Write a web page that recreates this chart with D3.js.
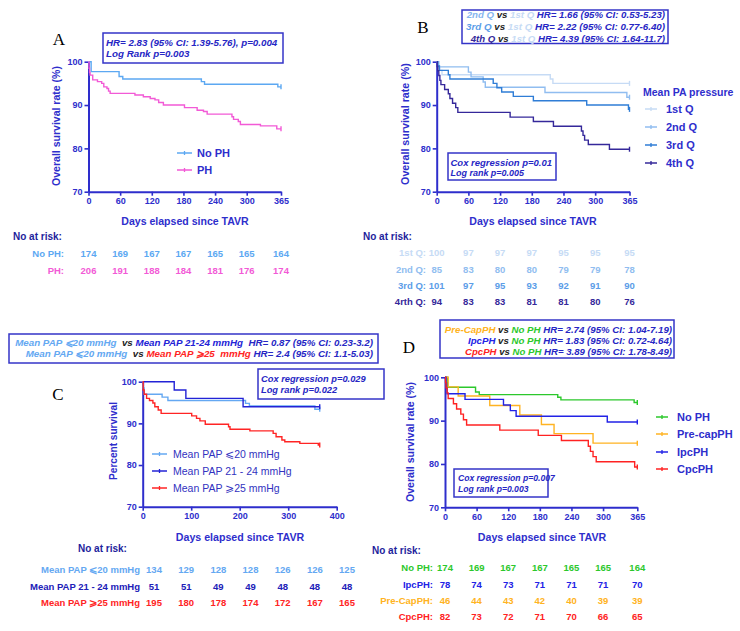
<!DOCTYPE html>
<html><head><meta charset="utf-8">
<script src="https://cdn.jsdelivr.net/npm/d3@7"></script>
<style>body{margin:0;background:#fff}text{white-space:pre}</style>
</head><body><script>
// ---------- DATA ----------
const ticks365 = [0,60,120,180,240,300,365];
const ticks400 = [0,100,200,300,400];
const yTicks = [70,80,90,100];

// Panel A
const aNoPH = [[0,100],[5,97.7],[58,96.6],[65,96],[214,95.4],[220,94.8],[359,94.2],[365,94.2]];
const aPH = [[0,100],[1,98.5],[2,97.5],[3,96.9],[8,95.8],[17,95.4],[25,95],[29,94.2],[35,93.8],[38,93.2],[41,92.7],[88,92.3],[104,91.9],[117,91.5],[126,91.2],[133,90.6],[142,90],[182,89.4],[206,88.8],[218,88.5],[225,87.9],[272,87.3],[275,86.7],[284,86.2],[288,85.5],[326,85.2],[357,84.5],[365,84.5]];
const riskA_NoPH = [174,169,167,167,165,165,164];
const riskA_PH = [206,191,188,184,181,176,174];

// Panel B
const bQ1 = [[0,100],[3,99],[6,98],[10,97],[215,96],[220,95],[365,95]];
const bQ2 = [[0,100],[4,98.8],[60,97.6],[65,96.5],[88,95.3],[92,94.1],[205,92.9],[360,91.8],[365,91.8]];
const bQ3 = [[0,100],[2,99],[5,98],[22,97],[25,96],[107,95],[114,94],[123,93],[145,92],[183,91],[284,90],[363,89],[365,89]];
const bQ4 = [[0,100],[1,98.9],[2,97.9],[4,96.8],[6,95.7],[8,94.7],[15,93.6],[22,92.6],[25,91.5],[30,90.4],[36,89.4],[40,88.3],[139,87.2],[183,86.2],[221,85.1],[274,84],[277,83],[280,81.9],[287,80.9],[327,79.8],[365,79.8]];
const riskB_Q1 = [100,97,97,97,95,95,95];
const riskB_Q2 = [85,83,80,80,79,79,78];
const riskB_Q3 = [101,97,95,93,92,91,90];
const riskB_Q4 = [94,83,83,81,81,80,76];

// Panel C
const c20 = [[0,100],[1,98.5],[3,97],[40,96.3],[52,95.5],[212,94.8],[220,94.2],[355,93.4],[365,93.4]];
const c21 = [[0,100],[65,98],[89,96],[207,94],[365,94]];
const c25 = [[0,100],[1,98],[3,97],[8,96],[14,95.5],[21,94.9],[25,94],[32,93.2],[38,92.4],[101,91.8],[111,91.2],[118,90.6],[129,89.8],[177,89.2],[180,88.6],[221,88.2],[269,87.6],[275,86.8],[287,86],[293,85.6],[324,85.2],[362,84.8],[365,84.8]];
const riskC_20 = [134,129,128,128,126,126,125];
const riskC_21 = [51,51,49,49,48,48,48];
const riskC_25 = [195,180,178,174,172,167,165];

// Panel D
const dNoPH = [[0,100],[5,97.7],[58,96.6],[65,96],[214,95.4],[220,94.8],[359,94.2],[365,94.2]];
const dPre = [[0,100],[6,97.8],[25,95.7],[85,93.5],[142,91.3],[183,89.1],[207,87],[281,84.8],[365,84.8]];
const dIpc = [[0,100],[2,98.7],[3,97.4],[4,96.2],[38,94.9],[111,93.6],[124,92.3],[135,91],[308,89.7],[365,89.7]];
const dCpc = [[0,100],[1,98.8],[2,97.6],[4,96.4],[6,95.1],[16,93.9],[22,92.7],[30,91.5],[35,90.2],[41,89],[104,87.8],[177,86.6],[221,85.4],[272,84.1],[276,82.9],[281,81.7],[287,80.5],[360,79.3],[365,79.3]];
const riskD_NoPH = [174,169,167,167,165,165,164];
const riskD_Ipc = [78,74,73,71,71,71,70];
const riskD_Pre = [46,44,43,42,40,39,39];
const riskD_Cpc = [82,73,72,71,70,66,65];

// ---------- STYLE ----------
const SANS = '"Liberation Sans", Arial, Helvetica, sans-serif';
const SERIF = '"Liberation Serif", "Times New Roman", serif';
const AX = '#2e2ecc', NAVY = '#1e1e9c', BOX = '#3434c8', HR = '#2626c4', VS = '#222';
const C = {
  noph:'#5ca8f2', ph:'#f25ad6',
  q1:'#c6dbf5', q2:'#90bdf0', q3:'#2f7dd6', q4:'#35289a', q2t:'#86b6ef', q3t:'#5b9de8',
  m20:'#64a8f2', m21:'#2323d6', m25:'#ff2424',
  green:'#2cc82c', orange:'#ffb322', blue:'#2222e6', red:'#ff2222'
};

const svg = d3.select('body').append('svg').attr('width',740).attr('height',631)
  .style('font-family', SANS);

function txt(x, y, s, o = {}) {
  const t = svg.append('text').attr('x', x).attr('y', y).attr('dy', '0.35em')
    .attr('font-size', o.size || 10).attr('font-weight', o.weight || 'bold')
    .attr('font-style', o.style || 'normal').attr('fill', o.fill || AX)
    .attr('text-anchor', o.anchor || 'start').attr('font-family', o.family || SANS);
  if (Array.isArray(s)) s.forEach(p => t.append('tspan').attr('fill', p[1]).text(p[0]));
  else t.text(s);
  if (o.rotate) t.attr('transform', `rotate(${o.rotate},${x},${y})`);
  if (o.fit) {
    const w = t.node().getBBox().width;
    t.attr('font-size', (o.size || 10) * o.fit / w);
  }
  return t;
}

function box(x0, y0, x1, y1) {
  svg.append('rect').attr('x', x0).attr('y', y0).attr('width', x1 - x0).attr('height', y1 - y0)
    .attr('fill', 'none').attr('stroke', BOX).attr('stroke-width', 1.5);
}

function panel(p) {
  const x = d3.scaleLinear().domain(p.xd).range(p.xr);
  const y = d3.scaleLinear().domain([70, 100]).range(p.yr);
  const ga = svg.append('g').attr('transform', `translate(0,${p.yr[0]})`)
    .call(d3.axisBottom(x).tickValues(p.xt).tickSize(4).tickSizeOuter(0).tickPadding(2));
  const gy = svg.append('g').attr('transform', `translate(${p.xr[0]},0)`)
    .call(d3.axisLeft(y).tickValues(yTicks).tickSize(4).tickSizeOuter(0).tickPadding(2));
  [ga, gy].forEach(g => {
    g.select('.domain').attr('stroke', AX).attr('stroke-width', 2);
    g.selectAll('.tick line').attr('stroke', AX).attr('stroke-width', 1.6);
    g.selectAll('.tick text').attr('fill', AX).attr('font-weight', 'bold')
      .attr('font-size', 9).attr('font-family', SANS);
  });
  const line = d3.line().x(d => x(d[0])).y(d => y(d[1])).curve(d3.curveStepAfter);
  p.series.forEach(s => {
    svg.append('path').datum(s.data).attr('d', line).attr('fill', 'none')
      .attr('stroke', s.color).attr('stroke-width', 1.4);
    const l = s.data[s.data.length - 1];
    svg.append('line').attr('x1', x(l[0])).attr('x2', x(l[0]))
      .attr('y1', y(l[1]) - 2.5).attr('y2', y(l[1]) + 2.5)
      .attr('stroke', s.color).attr('stroke-width', 1.4);
  });
  return x;
}

function legend(items, x1, x2, tx, ys, o) {
  items.forEach((it, i) => {
    svg.append('line').attr('x1', x1).attr('x2', x2).attr('y1', ys[i]).attr('y2', ys[i])
      .attr('stroke', it[1]).attr('stroke-width', 1.5);
    const m = (x1 + x2) / 2;
    svg.append('line').attr('x1', m).attr('x2', m).attr('y1', ys[i] - 2).attr('y2', ys[i] + 2)
      .attr('stroke', it[1]).attr('stroke-width', 1.3);
    txt(tx, ys[i], it[0], o);
  });
}

function riskRows(rows, labelX, ys, xpos) {
  rows.forEach((r, i) => {
    txt(labelX, ys[i], r.label, {size: 9.5, fill: r.color, anchor: 'end'});
    r.vals.forEach((v, j) => txt(xpos(j), ys[i], String(v), {size: 9.5, fill: r.color, anchor: 'middle'}));
  });
}

// ---------- PANEL A ----------
const xA = panel({xd:[0,365], xr:[88.5,281], yr:[191.7,61.7], xt:ticks365,
  series:[{data:aNoPH,color:C.noph},{data:aPH,color:C.ph}]});
txt(59, 39, 'A', {family: SERIF, weight: 'normal', size: 17, fill: '#000', anchor: 'middle'});
box(103, 33, 283, 63);
txt(106, 43, 'HR= 2.83 (95% CI: 1.39-5.76), p=0.004', {style:'italic', fill:HR, fit:172});
txt(106, 54, 'Log Rank p=0.003', {style:'italic', fill:HR, fit:84});
txt(56, 126, 'Overall survival rate (%)', {anchor:'middle', rotate:-90, fit:120, size:10.5});
txt(185, 221, 'Days elapsed since TAVR', {anchor:'middle', fit:128, size:10.5});
legend([['No PH', C.noph], ['PH', C.ph]], 177, 192, 197, [153, 170], {size: 11});
txt(13, 236, 'No at risk:', {size: 10, fill: NAVY});
riskRows([{label:'No PH:', color:C.noph, vals:riskA_NoPH}, {label:'PH:', color:C.ph, vals:riskA_PH}],
  64, [254, 271], j => xA(ticks365[j]));

// ---------- PANEL B ----------
const xB = panel({xd:[0,365], xr:[436.7,629.5], yr:[191.7,61.7], xt:ticks365,
  series:[{data:bQ1,color:C.q1},{data:bQ2,color:C.q2},{data:bQ3,color:C.q3},{data:bQ4,color:C.q4}]});
txt(423, 27, 'B', {family: SERIF, weight: 'normal', size: 17, fill: '#000', anchor: 'middle'});
box(462, 10, 668, 43.5);
txt(665, 15, [['2nd Q', C.q2t], [' vs ', VS], ['1st Q', C.q1], [' HR= 1.66 (95% CI: 0.53-5.23)', HR]], {style:'italic', anchor:'end', fit:200});
txt(665, 26.7, [['3rd Q', C.q3t], [' vs ', VS], ['1st Q', C.q1], [' HR= 2.22 (95% CI: 0.77-6.40)', HR]], {style:'italic', anchor:'end', fit:200});
txt(665, 38.3, [['4th Q', C.q4], [' vs ', VS], ['1st Q', C.q1], [' HR= 4.39 (95% CI: 1.64-11.7)', HR]], {style:'italic', anchor:'end', fit:196});
box(448, 153, 556, 180);
txt(450.5, 162.7, 'Cox regression p=0.01', {style:'italic', fill:HR, fit:102});
txt(450.5, 173.3, 'Log rank p=0.005', {style:'italic', fill:HR, fit:74});
txt(405, 124, 'Overall survival rate (%)', {anchor:'middle', rotate:-90, fit:122, size:10.5});
txt(533, 221, 'Days elapsed since TAVR', {anchor:'middle', fit:128, size:10.5});
txt(643, 92, 'Mean PA pressure', {size: 10.5});
legend([['1st Q', C.q1], ['2nd Q', C.q2], ['3rd Q', C.q3], ['4th Q', C.q4]], 645, 657, 666, [109, 127, 145, 163], {size: 11});
txt(363, 236, 'No at risk:', {size: 10, fill: NAVY});
riskRows([{label:'1st Q:', color:C.q1, vals:riskB_Q1}, {label:'2nd Q:', color:C.q2, vals:riskB_Q2},
  {label:'3rd Q:', color:C.q3t, vals:riskB_Q3}, {label:'4rth Q:', color:C.q4, vals:riskB_Q4}],
  426, [253, 269.5, 286, 302], j => xB(ticks365[j]));

// ---------- PANEL C ----------
panel({xd:[0,400], xr:[142.7,336.7], yr:[506.7,381.7], xt:ticks400,
  series:[{data:c20,color:C.m20},{data:c21,color:C.m21},{data:c25,color:C.m25}]});
txt(58, 394, 'C', {family: SERIF, weight: 'normal', size: 17, fill: '#000', anchor: 'middle'});
box(9, 334, 378, 363);
txt(373, 343, [['Mean PAP \u2A7D20 mmHg', C.m20], ['  vs ', VS], ['Mean PAP 21-24 mmHg', C.m21], ['  HR= 0.87 (95% CI: 0.23-3.2)', HR]], {style:'italic', anchor:'end', fit:359});
txt(373, 354, [['Mean PAP \u2A7D20 mmHg', C.m20], ['  vs ', VS], ['Mean PAP \u2A7E25  mmHg', C.m25], [' HR= 2.4 (95% CI: 1.1-5.03)', HR]], {style:'italic', anchor:'end', fit:348});
box(258, 369, 384, 399);
txt(261, 379, 'Cox regression p=0.029', {style:'italic', fill:HR, size:9.3});
txt(261, 389.5, 'Log rank p=0.022', {style:'italic', fill:HR, size:9.3});
txt(113, 441, 'Percent survival', {anchor:'middle', rotate:-90, fit:78, size:10.5});
txt(240, 537, 'Days elapsed since TAVR', {anchor:'middle', fit:129, size:10.5});
legend([['Mean PAP \u2A7D20 mmHg', C.m20], ['Mean PAP 21 - 24 mmHg', C.m21], ['Mean PAP \u2A7E25 mmHg', C.m25]],
  152, 167, 173, [454, 471, 488], {size: 10.5, weight: 'normal', fill: '#3232c0'});
txt(78, 548, 'No at risk:', {size: 10, fill: NAVY});
const colC = d3.scalePoint().domain(d3.range(7)).range([154, 347]);
riskRows([{label:'Mean PAP \u2A7D20 mmHg', color:C.m20, vals:riskC_20}, {label:'Mean PAP 21 - 24 mmHg', color:'#2020b8', vals:riskC_21},
  {label:'Mean PAP \u2A7E25 mmHg', color:C.m25, vals:riskC_25}], 140, [570, 587, 603], j => colC(j));

// ---------- PANEL D ----------
const xD = panel({xd:[0,365], xr:[445,637.3], yr:[507.3,377.3], xt:ticks365,
  series:[{data:dNoPH,color:C.green},{data:dPre,color:C.orange},{data:dIpc,color:C.blue},{data:dCpc,color:C.red}]});
txt(409, 347, 'D', {family: SERIF, weight: 'normal', size: 17, fill: '#000', anchor: 'middle'});
box(440, 320, 674, 358);
txt(672, 330, [['Pre-CapPH', C.orange], [' vs ', VS], ['No PH', C.green], [' HR= 2.74 (95% CI: 1.04-7.19)', HR]], {style:'italic', anchor:'end', fit:228});
txt(672, 341, [['IpcPH', C.blue], [' vs ', VS], ['No PH', C.green], [' HR= 1.83 (95% CI: 0.72-4.64)', HR]], {style:'italic', anchor:'end', fit:205});
txt(672, 352, [['CpcPH', C.red], [' vs ', VS], ['No PH', C.green], [' HR= 3.89 (95% CI: 1.78-8.49)', HR]], {style:'italic', anchor:'end', fit:208});
box(454, 469, 548, 497);
txt(458, 478, 'Cox regression p=0.007', {style:'italic', fill:HR, size:8.6});
txt(458, 489, 'Log rank p=0.003', {style:'italic', fill:HR, size:8.6});
txt(410, 442, 'Overall survival rate (%)', {anchor:'middle', rotate:-90, fit:120, size:10.5});
txt(542, 537, 'Days elapsed since TAVR', {anchor:'middle', fit:129, size:10.5});
legend([['No PH', C.green], ['Pre-capPH', C.orange], ['IpcPH', C.blue], ['CpcPH', C.red]],
  656, 668, 677, [417, 434, 452, 469], {size: 11});
txt(372, 550, 'No at risk:', {size: 10, fill: NAVY});
riskRows([{label:'No PH:', color:C.green, vals:riskD_NoPH}, {label:'IpcPH:', color:C.blue, vals:riskD_Ipc},
  {label:'Pre-CapPH:', color:C.orange, vals:riskD_Pre}, {label:'CpcPH:', color:C.red, vals:riskD_Cpc}],
  433, [568, 584.5, 601, 617], j => xD(ticks365[j]));
</script></body></html>
